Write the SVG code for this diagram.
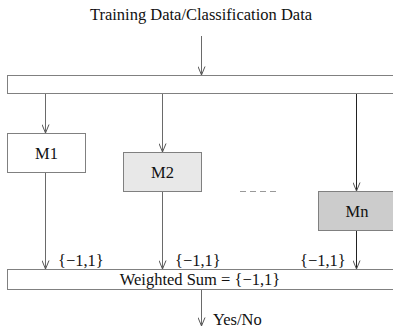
<svg xmlns="http://www.w3.org/2000/svg" width="393" height="329" viewBox="0 0 393 329">
  <style>
    text { font-family: "Liberation Serif", "Times New Roman", serif; font-size: 16.5px; fill: #111; }
    .box { stroke: #808080; stroke-width: 1; }
    .wire { stroke: #6a6a6a; stroke-width: 1; fill: none; }
    .dark { stroke: #222; }
  </style>
  <defs>
    <marker id="vee" markerWidth="10" markerHeight="8" refX="9" refY="4" orient="auto" markerUnits="userSpaceOnUse" viewBox="0 0 10 8">
      <path d="M0.5,0.5 L9,4 L0.5,7.5" fill="none" stroke="#555" stroke-width="1"/>
    </marker>
  </defs>

  <rect width="393" height="329" fill="#fff"/>

  <text x="201" y="20" text-anchor="middle">Training Data/Classification Data</text>

  <g id="input-bar">
    <rect class="box" x="7.5" y="75.5" width="390" height="18" fill="#fff"/>
  </g>

  <g id="m1">
    <rect class="box" x="7.5" y="133.5" width="78" height="39" fill="#fff"/>
    <text x="46.5" y="158.5" text-anchor="middle">M1</text>
  </g>

  <g id="m2">
    <rect class="box" x="123.5" y="152.5" width="78" height="39" fill="#e8e8e8"/>
    <text x="162.5" y="177.5" text-anchor="middle">M2</text>
  </g>

  <g id="mn">
    <rect class="box" x="318.5" y="191.5" width="78" height="39" fill="#cccccc"/>
    <text x="357" y="216.5" text-anchor="middle">Mn</text>
  </g>

  <g id="sum-bar">
    <rect class="box" x="7.5" y="269.5" width="390" height="20" fill="#fff"/>
    <text x="200" y="285" text-anchor="middle">Weighted Sum = {−1,1}</text>
  </g>

  <g id="connectors">
    <line class="wire" x1="201.5" y1="36" x2="201.5" y2="75" marker-end="url(#vee)"/>
    <line class="wire" x1="45.5" y1="94" x2="45.5" y2="133" marker-end="url(#vee)"/>
    <line class="wire" x1="162.5" y1="94" x2="162.5" y2="152" marker-end="url(#vee)"/>
    <line class="wire dark" x1="356.5" y1="94" x2="356.5" y2="191" marker-end="url(#vee)"/>
    <line class="wire" x1="45.5" y1="173" x2="45.5" y2="269" marker-end="url(#vee)"/>
    <line class="wire" x1="162.5" y1="192" x2="162.5" y2="269" marker-end="url(#vee)"/>
    <line class="wire dark" x1="356.5" y1="231" x2="356.5" y2="269" marker-end="url(#vee)"/>
    <line class="wire" x1="201.5" y1="290" x2="201.5" y2="326" marker-end="url(#vee)"/>
    <line x1="240" y1="191.5" x2="278" y2="191.5" stroke="#999" stroke-width="1" stroke-dasharray="6,4"/>
  </g>

  <text x="58" y="266">{−1,1}</text>
  <text x="175" y="266">{−1,1}</text>
  <text x="300" y="266">{−1,1}</text>
  <text x="213" y="325">Yes/No</text>
</svg>
